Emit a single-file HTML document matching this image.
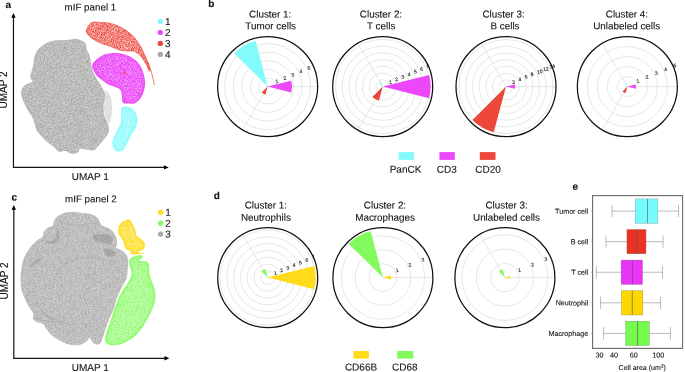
<!DOCTYPE html><html><head><meta charset="utf-8"><style>html,body{margin:0;padding:0;background:#fff}svg{display:block;will-change:transform}text{font-family:"Liberation Sans",sans-serif;fill:#111;stroke:#111;stroke-width:0.1px}</style></head><body>
<svg width="685" height="372" viewBox="0 0 685 372">
<defs><filter id="tg" x="-5%" y="-5%" width="110%" height="110%" color-interpolation-filters="sRGB"><feTurbulence type="fractalNoise" baseFrequency="1.3" numOctaves="1" seed="3" result="n"/><feColorMatrix in="n" type="matrix" values="0 0 0 0 1  0 0 0 0 1  0 0 0 0 1  1.15 0 0 0 -0.325" result="w"/><feMorphology in="SourceAlpha" operator="erode" radius="0.3" result="e"/><feGaussianBlur in="e" stdDeviation="0.6" result="eb"/><feComposite in="w" in2="eb" operator="in" result="wi"/><feComposite in="wi" in2="SourceAlpha" operator="in" result="wi2"/><feMerge><feMergeNode in="SourceGraphic"/><feMergeNode in="wi2"/></feMerge></filter><filter id="tr" x="-5%" y="-5%" width="110%" height="110%" color-interpolation-filters="sRGB"><feTurbulence type="fractalNoise" baseFrequency="1.3" numOctaves="1" seed="5" result="n"/><feColorMatrix in="n" type="matrix" values="0 0 0 0 1  0 0 0 0 1  0 0 0 0 1  1.6 0 0 0 -0.46" result="w"/><feMorphology in="SourceAlpha" operator="erode" radius="0.45" result="e"/><feGaussianBlur in="e" stdDeviation="0.8" result="eb"/><feComposite in="w" in2="eb" operator="in" result="wi"/><feComposite in="wi" in2="SourceAlpha" operator="in" result="wi2"/><feMerge><feMergeNode in="SourceGraphic"/><feMergeNode in="wi2"/></feMerge></filter><filter id="tm" x="-5%" y="-5%" width="110%" height="110%" color-interpolation-filters="sRGB"><feTurbulence type="fractalNoise" baseFrequency="1.3" numOctaves="1" seed="7" result="n"/><feColorMatrix in="n" type="matrix" values="0 0 0 0 1  0 0 0 0 1  0 0 0 0 1  1.4 0 0 0 -0.52" result="w"/><feMorphology in="SourceAlpha" operator="erode" radius="1.2" result="e"/><feGaussianBlur in="e" stdDeviation="1.6" result="eb"/><feComposite in="w" in2="eb" operator="in" result="wi"/><feComposite in="wi" in2="SourceAlpha" operator="in" result="wi2"/><feMerge><feMergeNode in="SourceGraphic"/><feMergeNode in="wi2"/></feMerge></filter><filter id="tc" x="-5%" y="-5%" width="110%" height="110%" color-interpolation-filters="sRGB"><feTurbulence type="fractalNoise" baseFrequency="1.3" numOctaves="1" seed="9" result="n"/><feColorMatrix in="n" type="matrix" values="0 0 0 0 1  0 0 0 0 1  0 0 0 0 1  1.2 0 0 0 -0.3" result="w"/><feMorphology in="SourceAlpha" operator="erode" radius="0.6" result="e"/><feGaussianBlur in="e" stdDeviation="0.8" result="eb"/><feComposite in="w" in2="eb" operator="in" result="wi"/><feComposite in="wi" in2="SourceAlpha" operator="in" result="wi2"/><feMerge><feMergeNode in="SourceGraphic"/><feMergeNode in="wi2"/></feMerge></filter><filter id="tgc" x="-5%" y="-5%" width="110%" height="110%" color-interpolation-filters="sRGB"><feTurbulence type="fractalNoise" baseFrequency="1.4" numOctaves="1" seed="11" result="n"/><feColorMatrix in="n" type="matrix" values="0 0 0 0 1  0 0 0 0 1  0 0 0 0 1  1.0 0 0 0 -0.28" result="w"/><feMorphology in="SourceAlpha" operator="erode" radius="0.3" result="e"/><feGaussianBlur in="e" stdDeviation="0.5" result="eb"/><feComposite in="w" in2="eb" operator="in" result="wi"/><feComposite in="wi" in2="SourceAlpha" operator="in" result="wi2"/><feMerge><feMergeNode in="SourceGraphic"/><feMergeNode in="wi2"/></feMerge></filter><filter id="ty" x="-5%" y="-5%" width="110%" height="110%" color-interpolation-filters="sRGB"><feTurbulence type="fractalNoise" baseFrequency="1.3" numOctaves="1" seed="13" result="n"/><feColorMatrix in="n" type="matrix" values="0 0 0 0 1  0 0 0 0 1  0 0 0 0 1  1.4 0 0 0 -0.42" result="w"/><feMorphology in="SourceAlpha" operator="erode" radius="0.6" result="e"/><feGaussianBlur in="e" stdDeviation="0.8" result="eb"/><feComposite in="w" in2="eb" operator="in" result="wi"/><feComposite in="wi" in2="SourceAlpha" operator="in" result="wi2"/><feMerge><feMergeNode in="SourceGraphic"/><feMergeNode in="wi2"/></feMerge></filter><filter id="tgr" x="-5%" y="-5%" width="110%" height="110%" color-interpolation-filters="sRGB"><feTurbulence type="fractalNoise" baseFrequency="1.3" numOctaves="1" seed="15" result="n"/><feColorMatrix in="n" type="matrix" values="0 0 0 0 1  0 0 0 0 1  0 0 0 0 1  1.2 0 0 0 -0.25" result="w"/><feMorphology in="SourceAlpha" operator="erode" radius="0.6" result="e"/><feGaussianBlur in="e" stdDeviation="0.8" result="eb"/><feComposite in="w" in2="eb" operator="in" result="wi"/><feComposite in="wi" in2="SourceAlpha" operator="in" result="wi2"/><feMerge><feMergeNode in="SourceGraphic"/><feMergeNode in="wi2"/></feMerge></filter><filter id="bl1"><feGaussianBlur stdDeviation="1.2"/></filter><filter id="bl05"><feGaussianBlur stdDeviation="0.5"/></filter></defs>
<rect width="685" height="372" fill="#fff"/>
<text x="5.5" y="7.9" font-size="10" font-weight="bold" transform="rotate(0.05 5.5 7.9)">a</text>
<text x="90.4" y="10.6" font-size="9.8" text-anchor="middle" transform="rotate(0.05 90.4 10.6)">mIF panel 1</text>
<path d="M13.45,17V167.4H164.7" fill="none" stroke="#111" stroke-width="1.2" stroke-linejoin="miter"/>
<path d="M11.25,17.8L13.45,13L15.649999999999999,17.8Z" fill="#000"/>
<path d="M163.89999999999998,165.20000000000002L168.7,167.4L163.89999999999998,169.6Z" fill="#000"/>
<text x="90.3" y="180" font-size="10" text-anchor="middle" transform="rotate(0.05 90.3 180)">UMAP 1</text>
<text transform="translate(7.3,90) rotate(-90)" font-size="10" text-anchor="middle">UMAP 2</text>
<path d="M52.1,41.0C55.3,40.2 60.5,40.2 63.4,40.0C66.3,39.8 67.6,40.0 69.7,39.8C71.8,39.6 73.9,38.7 76.1,38.9C78.2,39.1 81.0,40.2 82.6,41.0C84.2,41.8 85.1,42.3 85.8,43.7C86.5,45.1 86.1,47.6 86.6,49.4C87.1,51.1 88.3,52.3 89.0,54.2C89.7,56.1 90.2,58.5 90.6,60.6C91.0,62.8 91.0,64.9 91.5,67.1C92.0,69.2 93.1,71.6 93.9,73.5C94.7,75.4 95.4,76.8 96.3,78.4C97.2,80.0 98.5,81.5 99.5,83.2C100.5,84.9 101.6,86.4 102.5,88.5C103.4,90.6 104.8,93.4 105.0,96.0C105.2,98.6 103.8,101.7 103.5,104.0C103.2,106.3 103.3,108.0 103.5,110.0C103.7,112.0 103.8,113.8 104.5,116.0C105.2,118.2 106.8,120.4 107.5,122.9C108.2,125.4 109.5,128.3 109.0,131.0C108.5,133.7 105.8,136.7 104.2,139.0C102.6,141.3 101.2,142.8 99.4,144.7C97.7,146.6 95.9,149.5 93.7,150.3C91.5,151.1 88.8,149.8 86.5,149.5C84.2,149.2 81.4,148.0 80.0,148.5C78.6,149.0 79.6,151.4 78.2,152.3C76.8,153.2 74.0,154.1 71.8,153.9C69.6,153.7 67.5,151.5 65.3,151.1C63.1,150.7 60.8,152.3 58.9,151.6C57.0,150.9 55.9,148.6 54.0,147.1C52.1,145.6 49.8,144.2 47.6,142.3C45.5,140.4 43.0,138.0 41.1,135.8C39.2,133.7 37.5,131.9 36.3,129.4C35.1,126.9 34.8,123.3 33.9,121.0C33.0,118.7 32.2,117.3 31.1,115.3C30.0,113.3 28.3,111.1 27.1,108.9C25.9,106.8 24.8,104.6 23.9,102.4C23.0,100.2 21.9,98.2 21.5,96.0C21.1,93.8 21.3,91.2 21.8,89.5C22.3,87.8 23.4,86.6 24.7,85.5C26.0,84.4 28.2,83.7 29.5,83.0C30.8,82.3 32.6,82.5 32.7,81.5C32.8,80.5 30.4,78.9 30.3,77.0C30.2,75.1 31.4,72.5 31.9,70.3C32.4,68.1 33.1,66.2 33.5,63.9C33.9,61.6 33.7,58.9 34.4,56.6C35.1,54.3 36.0,52.2 37.6,50.2C39.2,48.2 41.6,46.0 44.0,44.5C46.4,43.0 48.9,41.8 52.1,41.0Z" fill="#a6a6a6" filter="url(#tg)"/>
<path d="M85.9,31.5C85.8,30.2 86.4,28.5 87.3,27.0C88.2,25.5 90.3,23.2 91.2,22.4C92.1,21.6 91.0,22.1 92.5,22.0C94.0,21.9 97.1,21.8 100.0,21.9C102.9,22.0 106.5,22.0 109.7,22.7C112.9,23.4 116.5,24.9 119.4,26.3C122.4,27.7 124.9,29.2 127.4,31.1C129.9,33.0 132.5,35.2 134.7,37.6C136.8,40.0 138.6,42.7 140.3,45.6C142.1,48.5 143.7,52.1 145.2,55.3C146.7,58.5 148.3,62.3 149.2,65.0C150.1,67.7 150.6,70.7 150.5,71.5C150.4,72.3 149.4,71.4 148.4,69.8C147.4,68.2 146.0,64.3 144.4,61.8C142.8,59.2 140.7,56.2 138.7,54.5C136.7,52.8 134.7,51.8 132.3,51.3C129.9,50.8 126.6,51.6 124.2,51.3C121.8,51.0 120.1,50.5 117.7,49.7C115.3,48.9 112.7,47.6 109.7,46.5C106.8,45.4 102.9,44.5 100.0,43.2C97.1,41.9 94.3,40.3 92.3,38.9C90.3,37.5 89.1,36.2 88.0,35.0C86.9,33.8 86.0,32.8 85.9,31.5Z" fill="#ec4739" filter="url(#tr)"/>
<path d="M147.5,61.5C150.5,68 152.8,76 154.3,85" fill="none" stroke="#ec4739" stroke-width="0.9" opacity="0.8"/>
<path d="M101,90C106,88 112,95 111.5,103C112.5,110 112,118 109,124C106,118 103,110 103,104C105,98 103,93 101,90Z" fill="#a8a8a8" opacity="0.45" filter="url(#tg)"/>
<path d="M92.3,64.7C93.0,63.0 95.2,60.6 97.1,59.0C99.0,57.4 101.1,56.0 103.5,55.0C105.9,54.0 108.9,53.6 111.6,53.3C114.2,53.0 116.5,52.7 119.4,53.2C122.3,53.7 126.0,54.6 129.0,56.1C132.0,57.6 135.1,59.8 137.3,62.0C139.5,64.2 140.9,66.9 142.1,69.5C143.3,72.1 144.0,74.9 144.5,77.6C145.0,80.3 145.3,82.9 145.0,85.6C144.7,88.3 143.9,91.3 142.9,93.7C141.9,96.1 140.4,98.6 138.9,100.2C137.4,101.8 135.9,102.8 134.0,103.4C132.1,104.0 129.5,103.7 127.6,103.6C125.7,103.5 123.7,104.0 122.7,102.6C121.8,101.2 122.3,97.4 121.9,95.3C121.5,93.2 121.5,91.1 120.3,89.7C119.1,88.3 116.7,87.7 114.7,86.8C112.7,85.9 110.4,85.5 108.4,84.5C106.4,83.5 104.6,81.9 102.7,80.5C100.8,79.1 98.7,77.8 97.1,76.0C95.5,74.2 93.9,71.4 93.1,69.5C92.3,67.6 91.6,66.5 92.3,64.7Z" fill="#ec47f8" filter="url(#tm)"/>
<path d="M121.3,108.5C121.8,107.1 123.0,107.1 124.0,106.8C125.0,106.5 126.3,106.5 127.6,106.8C128.9,107.1 130.3,107.6 131.6,108.5C132.9,109.4 134.6,110.5 135.6,112.4C136.6,114.3 137.6,117.2 137.6,119.7C137.6,122.2 136.6,125.3 135.6,127.7C134.6,130.1 132.9,131.8 131.6,134.2C130.3,136.6 128.9,139.8 127.6,142.3C126.2,144.9 125.1,147.9 123.5,149.5C121.9,151.1 119.5,151.7 117.9,151.6C116.3,151.5 114.8,150.2 113.9,148.7C113.0,147.1 112.2,144.5 112.3,142.3C112.4,140.2 113.8,137.9 114.7,135.8C115.6,133.8 116.7,131.6 117.5,130.0C118.3,128.4 119.0,127.4 119.5,126.1C120.0,124.8 120.5,123.8 120.8,122.0C121.1,120.2 121.1,117.2 121.2,115.0C121.3,112.8 120.8,109.9 121.3,108.5Z" fill="#83fbfd" filter="url(#tc)"/>
<path d="M124.7,70.6L126.6,74.2L122.9,74.2Z" fill="#ec4739" opacity="0.8"/>
<circle cx="160.3" cy="21.4" r="2.65" fill="#83fbfd"/><text x="164.9" y="24.9" font-size="10" transform="rotate(0.05 164.9 24.9)">1</text>
<circle cx="160.3" cy="32.4" r="2.65" fill="#ec47f8"/><text x="164.9" y="35.9" font-size="10" transform="rotate(0.05 164.9 35.9)">2</text>
<circle cx="160.3" cy="43.4" r="2.65" fill="#ec4739"/><text x="164.9" y="46.9" font-size="10" transform="rotate(0.05 164.9 46.9)">3</text>
<circle cx="160.3" cy="54.4" r="2.65" fill="#a9a9a9"/><text x="164.9" y="57.9" font-size="10" transform="rotate(0.05 164.9 57.9)">4</text>
<text x="11.5" y="200.5" font-size="10" font-weight="bold" transform="rotate(0.05 11.5 200.5)">c</text>
<text x="90.9" y="202.3" font-size="9.8" text-anchor="middle" transform="rotate(0.05 90.9 202.3)">mIF panel 2</text>
<path d="M13.8,209V358.3H165.3" fill="none" stroke="#111" stroke-width="1.2" stroke-linejoin="miter"/>
<path d="M11.600000000000001,209.8L13.8,205L16.0,209.8Z" fill="#000"/>
<path d="M164.5,356.1L169.3,358.3L164.5,360.5Z" fill="#000"/>
<text x="90.3" y="371" font-size="10" text-anchor="middle" transform="rotate(0.05 90.3 371)">UMAP 1</text>
<text transform="translate(7.5,280.9) rotate(-90)" font-size="10" text-anchor="middle">UMAP 2</text>
<path d="M61.8,213.9C63.7,213.1 66.0,212.6 68.2,212.3C70.4,212.0 72.5,212.0 75.0,212.1C77.5,212.2 80.0,212.7 82.9,213.1C85.8,213.5 90.0,213.8 92.6,214.7C95.1,215.6 96.7,216.9 98.2,218.7C99.7,220.4 100.0,223.7 101.5,225.2C103.0,226.7 105.2,226.5 107.1,227.6C109.0,228.7 111.2,230.0 112.7,231.6C114.2,233.2 115.3,235.3 116.0,237.3C116.7,239.3 117.1,242.0 117.1,243.7C117.1,245.4 115.5,246.6 116.2,247.7C117.0,248.8 119.9,249.0 121.6,250.2C123.3,251.4 125.4,253.1 126.5,255.0C127.6,256.9 127.8,259.1 128.0,261.5C128.2,263.9 127.8,267.0 127.6,269.7C127.4,272.4 127.4,275.0 126.6,277.7C125.8,280.4 123.9,283.1 122.6,285.8C121.2,288.5 119.6,291.5 118.5,293.9C117.4,296.3 116.9,297.9 116.1,300.3C115.3,302.7 114.6,305.8 113.7,308.4C112.8,311.0 111.8,312.9 110.5,316.1C109.2,319.3 107.4,323.9 106.1,327.4C104.8,330.9 103.8,334.6 102.9,337.1C102.0,339.7 101.6,341.4 100.5,342.7C99.4,343.9 97.8,344.7 96.5,344.6C95.2,344.5 93.7,343.2 92.5,342.0C91.3,340.8 90.2,337.8 89.4,337.5C88.6,337.2 88.9,339.3 87.5,340.5C86.1,341.7 83.6,343.9 80.9,344.6C78.2,345.4 74.6,345.5 71.5,345.0C68.4,344.5 65.2,343.3 62.1,341.8C59.0,340.3 55.4,338.3 52.7,336.1C50.0,333.9 47.7,330.6 46.1,328.6C44.5,326.6 44.8,325.0 43.2,323.9C41.6,322.8 38.4,322.9 36.7,322.0C35.0,321.1 33.5,319.6 32.9,318.2C32.3,316.8 33.9,315.4 33.3,313.5C32.7,311.6 30.6,309.7 29.1,307.0C27.6,304.3 25.7,300.6 24.4,297.5C23.1,294.4 21.9,291.9 21.3,288.5C20.7,285.1 20.5,281.1 20.6,277.3C20.7,273.6 21.1,269.5 21.8,266.0C22.5,262.5 23.7,258.8 24.7,256.3C25.7,253.8 26.7,252.8 27.9,251.0C29.1,249.2 30.3,247.2 31.9,245.3C33.5,243.5 35.9,241.2 37.6,239.9C39.3,238.6 41.2,238.7 42.3,237.3C43.4,235.9 43.0,233.2 44.0,231.6C45.0,230.0 46.7,228.5 48.1,227.6C49.5,226.7 51.6,226.9 52.5,226.0C53.4,225.1 53.0,223.4 53.7,221.9C54.4,220.4 55.5,218.4 56.9,217.1C58.2,215.8 59.9,214.7 61.8,213.9Z" fill="#adadad" filter="url(#tgc)"/>
<g filter="url(#bl05)" opacity="0.38" fill="#808080" stroke="none">
<path d="M92.6,237.0C92.6,236.0 92.7,235.3 94.8,234.8C96.9,234.3 102.3,233.6 105.1,234.0C107.9,234.4 110.6,235.8 111.8,237.0C113.0,238.2 112.8,239.8 112.5,241.0C112.2,242.2 112.0,244.2 110.3,244.4C108.6,244.6 104.8,242.8 102.2,242.2C99.6,241.6 96.4,241.6 94.8,240.7C93.2,239.8 92.6,238.0 92.6,237.0Z"/>
<path d="M103.7,249.6C104.6,248.8 107.8,248.4 109.6,248.8C111.4,249.2 114.2,250.6 114.8,251.8C115.4,253.0 114.5,255.5 113.3,256.2C112.1,256.9 108.9,256.7 107.4,256.2C105.9,255.7 105.0,254.4 104.4,253.3C103.8,252.2 102.8,250.3 103.7,249.6Z"/>
<path d="M30,266.5C33,261 38,258.5 43.5,257.5C40,261 36,263 31.5,267.5Z"/>
<path d="M44,238C47,242 52,243 55,238.5C57.5,235 57.5,230 55.3,226C60,231 60.5,237 57,241C53,245.5 46,243.5 44,238Z"/>
<path d="M38.5,304.5C40.5,310 46,316 58.5,320.5C50,320.5 41,315 38.5,304.5Z"/>
</g>
<g fill="none" stroke="#8a8a8a" stroke-width="0.8" opacity="0.35" filter="url(#bl05)">
<path d="M53,290C52,275 62,262 80,258C98,255 112,262 121,272"/>
<path d="M33,318C40,321 50,321 60,322C75,324 85,330 89,337"/>
<path d="M60,222C70,226 82,226 97,222"/>
</g>
<path d="M128.4,219.4C127.2,219.5 125.0,220.3 123.5,221.3C122.0,222.3 120.4,223.7 119.5,225.3C118.6,226.9 117.8,229.1 117.9,231.0C118.0,232.9 119.4,234.8 120.3,236.6C121.2,238.3 122.8,239.9 123.5,241.5C124.2,243.1 123.9,245.0 124.4,246.3C125.0,247.6 125.6,248.7 126.8,249.5C128.0,250.3 130.8,250.7 131.3,251.4C131.8,252.1 129.7,253.1 130.0,253.6C130.3,254.1 131.7,254.5 133.2,254.6C134.7,254.7 137.0,254.2 139.0,254.0C141.0,253.8 145.3,253.8 145.3,253.6C145.3,253.4 140.3,252.9 139.0,252.6C137.7,252.3 136.7,252.1 137.3,251.6C138.0,251.1 141.6,250.5 142.9,249.5C144.2,248.5 144.9,246.8 145.0,245.5C145.1,244.2 144.6,242.7 143.7,241.5C142.8,240.3 140.9,239.1 139.7,238.2C138.5,237.2 137.2,237.0 136.5,235.8C135.8,234.6 136.2,232.8 135.6,231.0C135.0,229.2 134.0,227.0 133.2,225.3C132.4,223.6 131.6,222.0 130.8,221.0C130.0,220.0 129.6,219.3 128.4,219.4Z" fill="#ffdb1a" filter="url(#ty)"/>
<path d="M135.6,256.0C136.9,255.6 138.5,255.2 139.7,255.2C140.9,255.2 142.8,255.3 142.9,256.0C143.0,256.7 141.2,258.4 140.5,259.2C139.8,260.0 137.6,260.4 138.5,260.8C139.4,261.2 144.4,260.9 146.1,261.6C147.8,262.3 148.4,263.5 148.9,264.8C149.4,266.1 149.0,267.8 149.2,269.7C149.4,271.6 149.4,273.8 150.0,276.1C150.6,278.4 151.8,281.2 152.6,283.5C153.4,285.8 154.3,287.3 154.8,289.7C155.3,292.1 155.5,295.3 155.4,297.7C155.3,300.1 154.8,302.0 154.2,304.2C153.6,306.4 152.7,308.2 151.6,310.6C150.5,313.0 149.1,316.0 147.6,318.7C146.1,321.4 144.6,324.1 142.7,326.8C140.8,329.5 138.4,332.7 136.3,334.8C134.2,336.9 132.6,338.1 130.3,339.5C128.0,340.9 125.0,342.6 122.3,343.5C119.6,344.4 116.6,345.1 114.2,345.2C111.8,345.3 109.2,344.7 107.7,343.9C106.2,343.1 105.6,342.0 105.3,340.3C105.0,338.6 105.4,336.6 106.1,333.9C106.8,331.2 108.3,327.4 109.4,324.2C110.5,321.0 111.6,317.5 112.6,314.5C113.6,311.5 114.3,308.6 115.3,306.0C116.3,303.4 117.3,301.3 118.5,298.7C119.7,296.1 121.0,293.3 122.6,290.6C124.2,287.9 126.7,285.3 128.2,282.6C129.7,279.9 131.1,276.9 131.5,274.5C131.9,272.1 131.0,269.6 130.6,268.0C130.2,266.4 129.4,266.0 129.2,264.8C129.0,263.6 128.8,262.0 129.2,260.8C129.6,259.6 130.5,258.4 131.6,257.6C132.7,256.8 134.2,256.4 135.6,256.0Z" fill="#83fb5e" filter="url(#tgr)"/>
<circle cx="160.6" cy="212.3" r="2.65" fill="#ffdb1a"/><text x="165.3" y="215.8" font-size="10" transform="rotate(0.05 165.3 215.8)">1</text>
<circle cx="160.6" cy="223.2" r="2.65" fill="#83fb5e"/><text x="165.3" y="226.7" font-size="10" transform="rotate(0.05 165.3 226.7)">2</text>
<circle cx="160.6" cy="234.1" r="2.65" fill="#a9a9a9"/><text x="165.3" y="237.6" font-size="10" transform="rotate(0.05 165.3 237.6)">3</text>
<text x="270.2" y="17.5" font-size="9.9" text-anchor="middle" transform="rotate(0.05 270.2 17.5)">Cluster 1:</text>
<text x="270.7" y="29.2" font-size="9.9" text-anchor="middle" transform="rotate(0.05 270.7 29.2)">Tumor cells</text>
<circle cx="267.65" cy="86.6" r="50" fill="#fff"/>
<circle cx="267.65" cy="86.6" r="8.60" fill="none" stroke="#cfcfcf" stroke-width="0.5"/>
<circle cx="267.65" cy="86.6" r="17.20" fill="none" stroke="#cfcfcf" stroke-width="0.5"/>
<circle cx="267.65" cy="86.6" r="25.80" fill="none" stroke="#cfcfcf" stroke-width="0.5"/>
<circle cx="267.65" cy="86.6" r="34.40" fill="none" stroke="#cfcfcf" stroke-width="0.5"/>
<circle cx="267.65" cy="86.6" r="43.00" fill="none" stroke="#cfcfcf" stroke-width="0.5"/>
<line x1="267.65" y1="86.6" x2="317.65" y2="86.60" stroke="#cfcfcf" stroke-width="0.5"/>
<line x1="267.65" y1="86.6" x2="242.65" y2="43.30" stroke="#cfcfcf" stroke-width="0.5"/>
<line x1="267.65" y1="86.6" x2="242.65" y2="129.90" stroke="#cfcfcf" stroke-width="0.5"/>
<path d="M267.65,86.6L255.56,40.69A47.47,47.47 0 0 0 233.94,53.18Z" fill="#83fbfd"/>
<path d="M267.65,86.6L291.27,92.49A24.34,24.34 0 0 0 291.27,80.71Z" fill="#ec47f8"/>
<path d="M267.65,86.6L261.81,92.44A8.26,8.26 0 0 0 265.51,94.57Z" fill="#ec4739"/>
<circle cx="267.65" cy="86.6" r="50" fill="none" stroke="#111" stroke-width="1.25"/>
<text transform="translate(276.95,81.21) rotate(-9)" x="-1.4" y="1.8" font-size="5.0" fill="#000" stroke="#000" stroke-width="0.12">1</text>
<text transform="translate(284.89,77.92) rotate(-9)" x="-1.4" y="1.8" font-size="5.0" fill="#000" stroke="#000" stroke-width="0.12">2</text>
<text transform="translate(292.84,74.63) rotate(-9)" x="-1.4" y="1.8" font-size="5.0" fill="#000" stroke="#000" stroke-width="0.12">3</text>
<text transform="translate(300.78,71.34) rotate(-9)" x="-1.4" y="1.8" font-size="5.0" fill="#000" stroke="#000" stroke-width="0.12">4</text>
<text transform="translate(308.73,68.04) rotate(-9)" x="-1.4" y="1.8" font-size="5.0" fill="#000" stroke="#000" stroke-width="0.12">5</text>
<text x="381.0" y="17.5" font-size="9.9" text-anchor="middle" transform="rotate(0.05 381.0 17.5)">Cluster 2:</text>
<text x="381.2" y="29.2" font-size="9.9" text-anchor="middle" transform="rotate(0.05 381.2 29.2)">T cells</text>
<circle cx="382.7" cy="86.6" r="50" fill="#fff"/>
<circle cx="382.7" cy="86.6" r="6.75" fill="none" stroke="#cfcfcf" stroke-width="0.5"/>
<circle cx="382.7" cy="86.6" r="13.50" fill="none" stroke="#cfcfcf" stroke-width="0.5"/>
<circle cx="382.7" cy="86.6" r="20.25" fill="none" stroke="#cfcfcf" stroke-width="0.5"/>
<circle cx="382.7" cy="86.6" r="27.00" fill="none" stroke="#cfcfcf" stroke-width="0.5"/>
<circle cx="382.7" cy="86.6" r="33.75" fill="none" stroke="#cfcfcf" stroke-width="0.5"/>
<circle cx="382.7" cy="86.6" r="40.50" fill="none" stroke="#cfcfcf" stroke-width="0.5"/>
<circle cx="382.7" cy="86.6" r="47.25" fill="none" stroke="#cfcfcf" stroke-width="0.5"/>
<line x1="382.7" y1="86.6" x2="432.70" y2="86.60" stroke="#cfcfcf" stroke-width="0.5"/>
<line x1="382.7" y1="86.6" x2="357.70" y2="43.30" stroke="#cfcfcf" stroke-width="0.5"/>
<line x1="382.7" y1="86.6" x2="357.70" y2="129.90" stroke="#cfcfcf" stroke-width="0.5"/>
<path d="M382.7,86.6L381.50,82.03A4.72,4.72 0 0 0 379.34,83.27Z" fill="#83fbfd"/>
<path d="M382.7,86.6L429.20,98.19A47.92,47.92 0 0 0 429.20,75.01Z" fill="#ec47f8"/>
<path d="M382.7,86.6L372.39,96.91A14.58,14.58 0 0 0 378.93,100.68Z" fill="#ec4739"/>
<circle cx="382.7" cy="86.6" r="50" fill="none" stroke="#111" stroke-width="1.25"/>
<text transform="translate(390.29,81.92) rotate(-9)" x="-1.4" y="1.8" font-size="5.0" fill="#000" stroke="#000" stroke-width="0.12">1</text>
<text transform="translate(396.52,79.33) rotate(-9)" x="-1.4" y="1.8" font-size="5.0" fill="#000" stroke="#000" stroke-width="0.12">2</text>
<text transform="translate(402.76,76.75) rotate(-9)" x="-1.4" y="1.8" font-size="5.0" fill="#000" stroke="#000" stroke-width="0.12">3</text>
<text transform="translate(408.99,74.17) rotate(-9)" x="-1.4" y="1.8" font-size="5.0" fill="#000" stroke="#000" stroke-width="0.12">4</text>
<text transform="translate(415.23,71.58) rotate(-9)" x="-1.4" y="1.8" font-size="5.0" fill="#000" stroke="#000" stroke-width="0.12">5</text>
<text transform="translate(421.47,69.00) rotate(-9)" x="-1.4" y="1.8" font-size="5.0" fill="#000" stroke="#000" stroke-width="0.12">6</text>
<text transform="translate(427.70,66.42) rotate(-9)" x="-1.4" y="1.8" font-size="5.0" fill="#000" stroke="#000" stroke-width="0.12">7</text>
<text x="503.6" y="17.5" font-size="9.9" text-anchor="middle" transform="rotate(0.05 503.6 17.5)">Cluster 3:</text>
<text x="505.0" y="29.2" font-size="9.9" text-anchor="middle" transform="rotate(0.05 505.0 29.2)">B cells</text>
<circle cx="506.0" cy="86.6" r="50" fill="#fff"/>
<circle cx="506.0" cy="86.6" r="6.72" fill="none" stroke="#cfcfcf" stroke-width="0.5"/>
<circle cx="506.0" cy="86.6" r="13.44" fill="none" stroke="#cfcfcf" stroke-width="0.5"/>
<circle cx="506.0" cy="86.6" r="20.16" fill="none" stroke="#cfcfcf" stroke-width="0.5"/>
<circle cx="506.0" cy="86.6" r="26.88" fill="none" stroke="#cfcfcf" stroke-width="0.5"/>
<circle cx="506.0" cy="86.6" r="33.60" fill="none" stroke="#cfcfcf" stroke-width="0.5"/>
<circle cx="506.0" cy="86.6" r="40.32" fill="none" stroke="#cfcfcf" stroke-width="0.5"/>
<circle cx="506.0" cy="86.6" r="47.04" fill="none" stroke="#cfcfcf" stroke-width="0.5"/>
<line x1="506.0" y1="86.6" x2="556.00" y2="86.60" stroke="#cfcfcf" stroke-width="0.5"/>
<line x1="506.0" y1="86.6" x2="481.00" y2="43.30" stroke="#cfcfcf" stroke-width="0.5"/>
<line x1="506.0" y1="86.6" x2="481.00" y2="129.90" stroke="#cfcfcf" stroke-width="0.5"/>
<path d="M506.0,86.6L505.74,85.63A1.01,1.01 0 0 0 505.28,85.89Z" fill="#83fbfd"/>
<path d="M506.0,86.6L514.80,88.79A9.07,9.07 0 0 0 514.80,84.41Z" fill="#ec47f8"/>
<path d="M506.0,86.6L472.50,120.10A47.38,47.38 0 0 0 493.74,132.36Z" fill="#ec4739"/>
<circle cx="506.0" cy="86.6" r="50" fill="none" stroke="#111" stroke-width="1.25"/>
<text transform="translate(513.56,81.93) rotate(-9)" x="-1.4" y="1.8" font-size="5.0" fill="#000" stroke="#000" stroke-width="0.12">2</text>
<text transform="translate(519.77,79.36) rotate(-9)" x="-1.4" y="1.8" font-size="5.0" fill="#000" stroke="#000" stroke-width="0.12">4</text>
<text transform="translate(525.98,76.79) rotate(-9)" x="-1.4" y="1.8" font-size="5.0" fill="#000" stroke="#000" stroke-width="0.12">6</text>
<text transform="translate(532.18,74.21) rotate(-9)" x="-1.4" y="1.8" font-size="5.0" fill="#000" stroke="#000" stroke-width="0.12">8</text>
<text transform="translate(538.39,71.64) rotate(-9)" x="-1.4" y="1.8" font-size="5.0" fill="#000" stroke="#000" stroke-width="0.12">10</text>
<text transform="translate(544.60,69.07) rotate(-9)" x="-1.4" y="1.8" font-size="5.0" fill="#000" stroke="#000" stroke-width="0.12">12</text>
<text transform="translate(550.81,66.50) rotate(-9)" x="-1.4" y="1.8" font-size="5.0" fill="#000" stroke="#000" stroke-width="0.12">14</text>
<text x="626.9" y="17.5" font-size="9.9" text-anchor="middle" transform="rotate(0.05 626.9 17.5)">Cluster 4:</text>
<text x="626.7" y="29.2" font-size="9.9" text-anchor="middle" transform="rotate(0.05 626.7 29.2)">Unlabeled cells</text>
<circle cx="627.35" cy="86.6" r="50" fill="#fff"/>
<circle cx="627.35" cy="86.6" r="10.00" fill="none" stroke="#cfcfcf" stroke-width="0.5"/>
<circle cx="627.35" cy="86.6" r="20.00" fill="none" stroke="#cfcfcf" stroke-width="0.5"/>
<circle cx="627.35" cy="86.6" r="30.00" fill="none" stroke="#cfcfcf" stroke-width="0.5"/>
<circle cx="627.35" cy="86.6" r="40.00" fill="none" stroke="#cfcfcf" stroke-width="0.5"/>
<line x1="627.35" y1="86.6" x2="677.35" y2="86.60" stroke="#cfcfcf" stroke-width="0.5"/>
<line x1="627.35" y1="86.6" x2="602.35" y2="43.30" stroke="#cfcfcf" stroke-width="0.5"/>
<line x1="627.35" y1="86.6" x2="602.35" y2="129.90" stroke="#cfcfcf" stroke-width="0.5"/>
<path d="M627.35,86.6L626.43,83.12A3.60,3.60 0 0 0 624.79,84.07Z" fill="#83fbfd"/>
<path d="M627.35,86.6L635.60,88.66A8.50,8.50 0 0 0 635.60,84.54Z" fill="#ec47f8"/>
<path d="M627.35,86.6L622.54,91.41A6.80,6.80 0 0 0 625.59,93.17Z" fill="#ec4739"/>
<circle cx="627.35" cy="86.6" r="50" fill="none" stroke="#111" stroke-width="1.25"/>
<text transform="translate(637.94,80.67) rotate(-9)" x="-1.4" y="1.8" font-size="5.0" fill="#000" stroke="#000" stroke-width="0.12">1</text>
<text transform="translate(647.18,76.85) rotate(-9)" x="-1.4" y="1.8" font-size="5.0" fill="#000" stroke="#000" stroke-width="0.12">2</text>
<text transform="translate(656.42,73.02) rotate(-9)" x="-1.4" y="1.8" font-size="5.0" fill="#000" stroke="#000" stroke-width="0.12">3</text>
<text transform="translate(665.66,69.19) rotate(-9)" x="-1.4" y="1.8" font-size="5.0" fill="#000" stroke="#000" stroke-width="0.12">4</text>
<text transform="translate(674.89,65.37) rotate(-9)" x="-1.4" y="1.8" font-size="5.0" fill="#000" stroke="#000" stroke-width="0.12">5</text>
<text x="265.8" y="208.5" font-size="9.9" text-anchor="middle" transform="rotate(0.05 265.8 208.5)">Cluster 1:</text>
<text x="265.9" y="220.7" font-size="9.9" text-anchor="middle" transform="rotate(0.05 265.9 220.7)">Neutrophils</text>
<circle cx="267.7" cy="277.6" r="50" fill="#fff"/>
<circle cx="267.7" cy="277.6" r="6.80" fill="none" stroke="#cfcfcf" stroke-width="0.5"/>
<circle cx="267.7" cy="277.6" r="13.60" fill="none" stroke="#cfcfcf" stroke-width="0.5"/>
<circle cx="267.7" cy="277.6" r="20.40" fill="none" stroke="#cfcfcf" stroke-width="0.5"/>
<circle cx="267.7" cy="277.6" r="27.20" fill="none" stroke="#cfcfcf" stroke-width="0.5"/>
<circle cx="267.7" cy="277.6" r="34.00" fill="none" stroke="#cfcfcf" stroke-width="0.5"/>
<circle cx="267.7" cy="277.6" r="40.80" fill="none" stroke="#cfcfcf" stroke-width="0.5"/>
<circle cx="267.7" cy="277.6" r="47.60" fill="none" stroke="#cfcfcf" stroke-width="0.5"/>
<line x1="267.7" y1="277.6" x2="317.70" y2="277.60" stroke="#cfcfcf" stroke-width="0.5"/>
<line x1="267.7" y1="277.6" x2="242.70" y2="234.30" stroke="#cfcfcf" stroke-width="0.5"/>
<path d="M267.7,277.6L314.22,289.20A47.94,47.94 0 0 0 314.22,266.00Z" fill="#ffdb1a"/>
<path d="M267.7,277.6L265.41,268.92A8.98,8.98 0 0 0 261.33,271.28Z" fill="#83fb5e"/>
<circle cx="267.7" cy="277.6" r="50" fill="none" stroke="#111" stroke-width="1.25"/>
<text transform="translate(275.33,272.90) rotate(-9)" x="-1.4" y="1.8" font-size="5.0" fill="#000" stroke="#000" stroke-width="0.12">1</text>
<text transform="translate(281.61,270.30) rotate(-9)" x="-1.4" y="1.8" font-size="5.0" fill="#000" stroke="#000" stroke-width="0.12">2</text>
<text transform="translate(287.90,267.69) rotate(-9)" x="-1.4" y="1.8" font-size="5.0" fill="#000" stroke="#000" stroke-width="0.12">3</text>
<text transform="translate(294.18,265.09) rotate(-9)" x="-1.4" y="1.8" font-size="5.0" fill="#000" stroke="#000" stroke-width="0.12">4</text>
<text transform="translate(300.46,262.49) rotate(-9)" x="-1.4" y="1.8" font-size="5.0" fill="#000" stroke="#000" stroke-width="0.12">5</text>
<text transform="translate(306.74,259.89) rotate(-9)" x="-1.4" y="1.8" font-size="5.0" fill="#000" stroke="#000" stroke-width="0.12">6</text>
<text transform="translate(313.03,257.28) rotate(-9)" x="-1.4" y="1.8" font-size="5.0" fill="#000" stroke="#000" stroke-width="0.12">7</text>
<text x="385.0" y="208.5" font-size="9.9" text-anchor="middle" transform="rotate(0.05 385.0 208.5)">Cluster 2:</text>
<text x="385.1" y="220.7" font-size="9.9" text-anchor="middle" transform="rotate(0.05 385.1 220.7)">Macrophages</text>
<circle cx="382.9" cy="277.6" r="50" fill="#fff"/>
<circle cx="382.9" cy="277.6" r="13.90" fill="none" stroke="#cfcfcf" stroke-width="0.5"/>
<circle cx="382.9" cy="277.6" r="27.80" fill="none" stroke="#cfcfcf" stroke-width="0.5"/>
<circle cx="382.9" cy="277.6" r="41.70" fill="none" stroke="#cfcfcf" stroke-width="0.5"/>
<line x1="382.9" y1="277.6" x2="432.90" y2="277.60" stroke="#cfcfcf" stroke-width="0.5"/>
<line x1="382.9" y1="277.6" x2="357.90" y2="234.30" stroke="#cfcfcf" stroke-width="0.5"/>
<path d="M382.9,277.6L390.99,279.62A8.34,8.34 0 0 0 390.99,275.58Z" fill="#ffdb1a"/>
<path d="M382.9,277.6L370.62,230.96A48.23,48.23 0 0 0 348.65,243.64Z" fill="#83fb5e"/>
<circle cx="382.9" cy="277.6" r="50" fill="none" stroke="#111" stroke-width="1.25"/>
<text transform="translate(397.09,270.18) rotate(-9)" x="-1.4" y="1.8" font-size="5.0" fill="#000" stroke="#000" stroke-width="0.12">1</text>
<text transform="translate(409.93,264.86) rotate(-9)" x="-1.4" y="1.8" font-size="5.0" fill="#000" stroke="#000" stroke-width="0.12">2</text>
<text transform="translate(422.78,259.54) rotate(-9)" x="-1.4" y="1.8" font-size="5.0" fill="#000" stroke="#000" stroke-width="0.12">3</text>
<text x="506.6" y="208.5" font-size="9.9" text-anchor="middle" transform="rotate(0.05 506.6 208.5)">Cluster 3:</text>
<text x="506.5" y="220.7" font-size="9.9" text-anchor="middle" transform="rotate(0.05 506.5 220.7)">Unlabeled cells</text>
<circle cx="504.9" cy="277.6" r="50" fill="#fff"/>
<circle cx="504.9" cy="277.6" r="14.30" fill="none" stroke="#cfcfcf" stroke-width="0.5"/>
<circle cx="504.9" cy="277.6" r="28.60" fill="none" stroke="#cfcfcf" stroke-width="0.5"/>
<circle cx="504.9" cy="277.6" r="42.90" fill="none" stroke="#cfcfcf" stroke-width="0.5"/>
<line x1="504.9" y1="277.6" x2="554.90" y2="277.60" stroke="#cfcfcf" stroke-width="0.5"/>
<line x1="504.9" y1="277.6" x2="479.90" y2="234.30" stroke="#cfcfcf" stroke-width="0.5"/>
<path d="M504.9,277.6L509.90,278.85A5.15,5.15 0 0 0 509.90,276.35Z" fill="#ffdb1a"/>
<path d="M504.9,277.6L502.72,269.30A8.58,8.58 0 0 0 498.81,271.56Z" fill="#83fb5e"/>
<circle cx="504.9" cy="277.6" r="50" fill="none" stroke="#111" stroke-width="1.25"/>
<text transform="translate(519.46,270.03) rotate(-9)" x="-1.4" y="1.8" font-size="5.0" fill="#000" stroke="#000" stroke-width="0.12">1</text>
<text transform="translate(532.67,264.56) rotate(-9)" x="-1.4" y="1.8" font-size="5.0" fill="#000" stroke="#000" stroke-width="0.12">2</text>
<text transform="translate(545.88,259.08) rotate(-9)" x="-1.4" y="1.8" font-size="5.0" fill="#000" stroke="#000" stroke-width="0.12">3</text>
<text x="208.3" y="6.9" font-size="10" font-weight="bold" transform="rotate(0.05 208.3 6.9)">b</text>
<text x="213.7" y="199" font-size="10" font-weight="bold" transform="rotate(0.05 213.7 199)">d</text>
<text x="572.5" y="189.8" font-size="10" font-weight="bold" transform="rotate(0.05 572.5 189.8)">e</text>
<rect x="398.7" y="152.1" width="15.2" height="7.8" fill="#83fbfd"/>
<text x="405.5" y="172.8" font-size="10" text-anchor="middle" transform="rotate(0.05 405.5 172.8)">PanCK</text>
<rect x="439.4" y="152.1" width="15.4" height="7.8" fill="#ec47f8"/>
<text x="446.8" y="172.8" font-size="10" text-anchor="middle" transform="rotate(0.05 446.8 172.8)">CD3</text>
<rect x="479.8" y="152.1" width="15.7" height="7.8" fill="#ec4739"/>
<text x="488" y="172.8" font-size="10" text-anchor="middle" transform="rotate(0.05 488 172.8)">CD20</text>
<rect x="353.4" y="351" width="15.5" height="7.6" fill="#ffdb1a"/>
<text x="361" y="370.5" font-size="10" text-anchor="middle" transform="rotate(0.05 361 370.5)">CD66B</text>
<rect x="397.2" y="351" width="16.1" height="7.6" fill="#83fb5e"/>
<text x="404.9" y="370.5" font-size="10" text-anchor="middle" transform="rotate(0.05 404.9 370.5)">CD68</text>
<rect x="592.6" y="195.6" width="90" height="152.8" fill="#fff" stroke="#6e6e6e" stroke-width="1.15"/>
<path d="M612.1,204.9V217.29999999999998M678.5,204.9V217.29999999999998" stroke="#b4b4b4" stroke-width="0.9" fill="none"/>
<path d="M612.1,211.1H635.1M657.9,211.1H678.5" stroke="#8c8c8c" stroke-width="0.6" fill="none"/>
<rect x="635.1" y="198.9" width="22.8" height="24.4" fill="#75fbfd" stroke="#777" stroke-width="0.3"/>
<line x1="647.5" y1="198.9" x2="647.5" y2="223.29999999999998" stroke="#555" stroke-width="0.6"/>
<line x1="591.2" y1="211.1" x2="592.6" y2="211.1" stroke="#8a8a8a" stroke-width="0.7"/>
<text x="588.2" y="213.70" font-size="7.15" text-anchor="end" transform="rotate(0.05 588.2 213.70)">Tumor cell</text>
<path d="M606.0,235.45000000000002V247.85M663,235.45000000000002V247.85" stroke="#b4b4b4" stroke-width="0.9" fill="none"/>
<path d="M606.0,241.65H626.9M646,241.65H663" stroke="#8c8c8c" stroke-width="0.6" fill="none"/>
<rect x="626.9" y="229.45000000000002" width="19.1" height="24.4" fill="#ea3323" stroke="#777" stroke-width="0.3"/>
<line x1="636.6" y1="229.45000000000002" x2="636.6" y2="253.85" stroke="#555" stroke-width="0.6"/>
<line x1="591.2" y1="241.65" x2="592.6" y2="241.65" stroke="#8a8a8a" stroke-width="0.7"/>
<text x="588.2" y="244.25" font-size="7.15" text-anchor="end" transform="rotate(0.05 588.2 244.25)">B cell</text>
<path d="M596.4,266.05V278.45M662.5,266.05V278.45" stroke="#b4b4b4" stroke-width="0.9" fill="none"/>
<path d="M596.4,272.25H621.1M642.6,272.25H662.5" stroke="#8c8c8c" stroke-width="0.6" fill="none"/>
<rect x="621.1" y="260.05" width="21.5" height="24.4" fill="#ea33f7" stroke="#777" stroke-width="0.3"/>
<line x1="632.5" y1="260.05" x2="632.5" y2="284.45" stroke="#555" stroke-width="0.6"/>
<line x1="591.2" y1="272.25" x2="592.6" y2="272.25" stroke="#8a8a8a" stroke-width="0.7"/>
<text x="588.2" y="274.85" font-size="7.15" text-anchor="end" transform="rotate(0.05 588.2 274.85)">T cell</text>
<path d="M600.6,296.6V309.0M660.5,296.6V309.0" stroke="#b4b4b4" stroke-width="0.9" fill="none"/>
<path d="M600.6,302.8H621.4M642.9,302.8H660.5" stroke="#8c8c8c" stroke-width="0.6" fill="none"/>
<rect x="621.4" y="290.6" width="21.5" height="24.4" fill="#ffd700" stroke="#777" stroke-width="0.3"/>
<line x1="632.3" y1="290.6" x2="632.3" y2="315.0" stroke="#555" stroke-width="0.6"/>
<line x1="591.2" y1="302.8" x2="592.6" y2="302.8" stroke="#8a8a8a" stroke-width="0.7"/>
<text x="588.2" y="305.40" font-size="7.15" text-anchor="end" transform="rotate(0.05 588.2 305.40)">Neutrophil</text>
<path d="M603.6,327.2V339.59999999999997M670.4,327.2V339.59999999999997" stroke="#b4b4b4" stroke-width="0.9" fill="none"/>
<path d="M603.6,333.4H625.6M649.4,333.4H670.4" stroke="#8c8c8c" stroke-width="0.6" fill="none"/>
<rect x="625.6" y="321.2" width="23.8" height="24.4" fill="#75fb4c" stroke="#777" stroke-width="0.3"/>
<line x1="637.5" y1="321.2" x2="637.5" y2="345.59999999999997" stroke="#555" stroke-width="0.6"/>
<line x1="591.2" y1="333.4" x2="592.6" y2="333.4" stroke="#8a8a8a" stroke-width="0.7"/>
<text x="588.2" y="336.00" font-size="7.15" text-anchor="end" transform="rotate(0.05 588.2 336.00)">Macrophage</text>
<text x="599.4" y="357.6" font-size="7.2" text-anchor="middle" transform="rotate(0.05 599.4 357.6)">30</text>
<text x="614" y="357.6" font-size="7.2" text-anchor="middle" transform="rotate(0.05 614 357.6)">40</text>
<text x="633.7" y="357.6" font-size="7.2" text-anchor="middle" transform="rotate(0.05 633.7 357.6)">60</text>
<text x="658.3" y="357.6" font-size="7.2" text-anchor="middle" transform="rotate(0.05 658.3 357.6)">100</text>
<text x="642.2" y="370.0" font-size="7.05" text-anchor="middle" transform="rotate(0.05 642.2 370.0)">Cell area (um<tspan font-size="4.6" dy="-2.4">2</tspan><tspan dy="2.4">)</tspan></text>
</svg></body></html>
